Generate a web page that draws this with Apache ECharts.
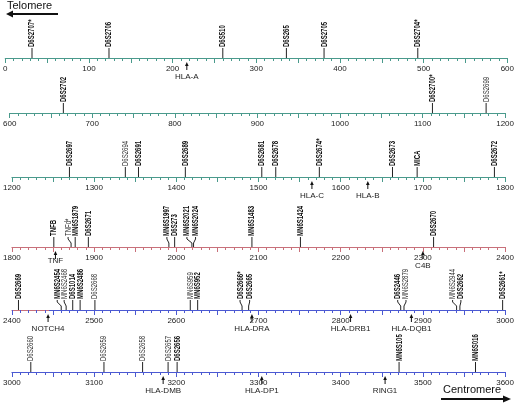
<!DOCTYPE html>
<html><head><meta charset="utf-8">
<script src="https://cdn.jsdelivr.net/npm/echarts@6/dist/echarts.min.js"></script>
<style>html,body{margin:0;padding:0;background:#fff}#c{width:517px;height:405px}</style>
</head><body><div id="c"></div>
<script>
// ---- data ----
const rowStarts = [0, 600, 1200, 1800, 2400, 3000];
const rowSpan = 600;
const markerNames = ['D6S2707*','D6S2706','D6S510','D6S265','D6S2705','D6S2704*',
  'D6S2702','D6S2700*','D6S2699',
  'D6S2697','D6S2694','D6S2691','D6S2689','D6S2681','D6S2678','D6S2674*','D6S2673','MICA','D6S2672',
  'TNFB','TNFd*','MN6S1879','D6S2671','MN6S1997','D6S273','MN6S2021','MN6S2024','MN6S1483','MN6S1424','D6S2670',
  'D6S2669','MN6S2454','MN6S2468','D6S1014','MN6S2486','D6S2668','MN6S959','MN6S952','D6S2666*','D6S2665','D6S2446','MN6S2879','MN6S2944','D6S2662','D6S2661*',
  'D6S2660','D6S2659','D6S2658','D6S2657','D6S2656','MN6S105','MN6S016'];
const markerPos = [32,124,260,336,381,493,
  665,1112,1177,
  1270,1338,1354,1411,1504,1521,1574,1663,1693,1787,
  1851,1872,1877,1893,1991,1998,2019,2021,2092,2151,2313,
  2408,2460,2466,2474,2483,2501,2617,2626,2680,2688,2873,2877,2941,2945,2997,
  3023,3112,3159,3190,3201,3471,3564];
// 1 = bold (black), 0 = light
const markerType = [1,1,1,1,1,1,
  1,1,0,
  1,0,1,1,1,1,1,1,1,1,
  1,0,1,1,1,1,1,1,1,1,1,
  1,1,0,1,1,0,0,1,1,1,1,0,0,1,1,
  0,0,0,0,1,1,1];
const geneNames = ['HLA-A','HLA-C','HLA-B','TNF','C4B','NOTCH4','HLA-DRA','HLA-DRB1','HLA-DQB1','HLA-DMB','HLA-DP1','RING1'];
const genePos = [217,1565,1633,1853,2300,2444,2692,2812,2886,3184,3304,3454];

// ---- layout / style ----
const axisY = [58, 113, 177, 247, 310, 372];
const labelNudge = {'TNFd*':-3,'MN6S1997':-2,'MN6S2021':-5,'MN6S2024':2,'MN6S2454':-4,'MN6S2468':-2,
  'D6S2666*':-2,'D6S2665':1,'D6S2446':-3,'MN6S2879':2,'MN6S2944':-4,'D6S2662':1};
const geneTextDy = {'TNF':-5};
const teal = '#4a9a8c', red = '#c8707a', blue = '#4b59d2';
const rowColors = [teal, teal, teal, red, null, blue];
const row5Grad = {type:'linear',x:0,y:0,x2:1,y2:0,colorStops:[
  {offset:0,color:red},{offset:0.08,color:red},{offset:0.08,color:blue},{offset:1,color:blue}]};
const narrow = "'Liberation Sans Narrow','Arial Narrow','Liberation Sans',Arial,sans-serif";
const sans = "'Liberation Sans',Arial,Helvetica,sans-serif";

const grids = [], xAxes = [], yAxes = [], series = [];
rowStarts.forEach((s, r) => {
  const col = rowColors[r] || row5Grad;
  const tickCol = rowColors[r] || blue;
  grids.push({left: 5, right: 9, top: axisY[r] - 30, height: 30});
  xAxes.push({type:'value', gridIndex:r, min:s, max:s+rowSpan, interval:50, position:'bottom',
    axisLine:{show:true, onZero:false, lineStyle:{color:col, width:1}},
    axisTick:{show:true, length:5, lineStyle:{color:tickCol}},
    minorTick:{show:true, splitNumber:5, length:3, lineStyle:{color:tickCol}},
    splitLine:{show:false},
    axisLabel:{margin:7, fontSize:8, color:'#222', fontFamily:sans,
      formatter: v => (v % 100 === 0 ? String(v) : '')}
  });
  yAxes.push({type:'value', gridIndex:r, min:0, max:1, show:false});

  const mIdx = [];
  markerPos.forEach((p, i) => { if (p >= s && p < s + rowSpan) mIdx.push(i); });
  series.push({type:'custom', xAxisIndex:r, yAxisIndex:r, clip:false, silent:true,
    data: mIdx.map(i => [markerPos[i], 0, i]),
    renderItem: (params, api) => {
      const i = api.value(2);
      const p = api.coord([api.value(0), 0]);
      const x0 = p[0], y0 = p[1];
      const name = markerNames[i];
      const lx = x0 + (labelNudge[name] || 0);
      const bold = markerType[i] === 1;
      return {type:'group', children:[
        {type:'polyline', shape:{points:[[x0,y0],[x0,y0-4],[lx,y0-8],[lx,y0-10]]},
          style:{stroke:'#222', lineWidth:1, fill:null}},
        {type:'text', x: lx, y: y0 - 11, rotation: Math.PI/2, scaleX: 0.67,
          style:{text:name, fill: bold ? '#111' : '#333', fontSize:9,
            fontWeight: bold ? 'bold' : 'normal', fontFamily:narrow,
            align:'left', verticalAlign:'middle'}}
      ]};
    }
  });

  const gIdx = [];
  genePos.forEach((p, i) => { if (p >= s && p < s + rowSpan) gIdx.push(i); });
  series.push({type:'custom', xAxisIndex:r, yAxisIndex:r, clip:false, silent:true,
    data: gIdx.map(i => [genePos[i], 0, i]),
    renderItem: (params, api) => {
      const i = api.value(2);
      const p = api.coord([api.value(0), 0]);
      const x = p[0], y0 = p[1];
      const dy = geneTextDy[geneNames[i]] || 0;
      return {type:'group', children:[
        {type:'line', shape:{x1:x, y1:y0+12, x2:x, y2:y0+7}, style:{stroke:'#111', lineWidth:1}},
        {type:'polygon', shape:{points:[[x,y0+4],[x-1.8,y0+8],[x+1.8,y0+8]]}, style:{fill:'#111'}},
        {type:'text', x:x, y:y0+19+dy, style:{text:geneNames[i], fill:'#222', fontSize:8,
          fontFamily:sans, align:'center', verticalAlign:'middle'}}
      ]};
    }
  });
});

const chart = echarts.init(document.getElementById('c'), null, {renderer:'canvas'});
chart.setOption({
  animation:false,
  grid: grids, xAxis: xAxes, yAxis: yAxes, series: series,
  graphic: [
    {type:'text', left:7, top:0, style:{text:'Telomere', fontSize:11, fontFamily:sans, fill:'#111'}},
    {type:'line', shape:{x1:10, y1:14, x2:58, y2:14}, style:{stroke:'#111', lineWidth:2}},
    {type:'polygon', shape:{points:[[6,14],[13,10.5],[13,17.5]]}, style:{fill:'#111'}},
    {type:'text', left:443, top:384, style:{text:'Centromere', fontSize:11, fontFamily:sans, fill:'#111'}},
    {type:'line', shape:{x1:441, y1:399, x2:505, y2:399}, style:{stroke:'#111', lineWidth:2}},
    {type:'polygon', shape:{points:[[511,399],[503,395.5],[503,402.5]]}, style:{fill:'#111'}}
  ]
});
</script></body></html>
